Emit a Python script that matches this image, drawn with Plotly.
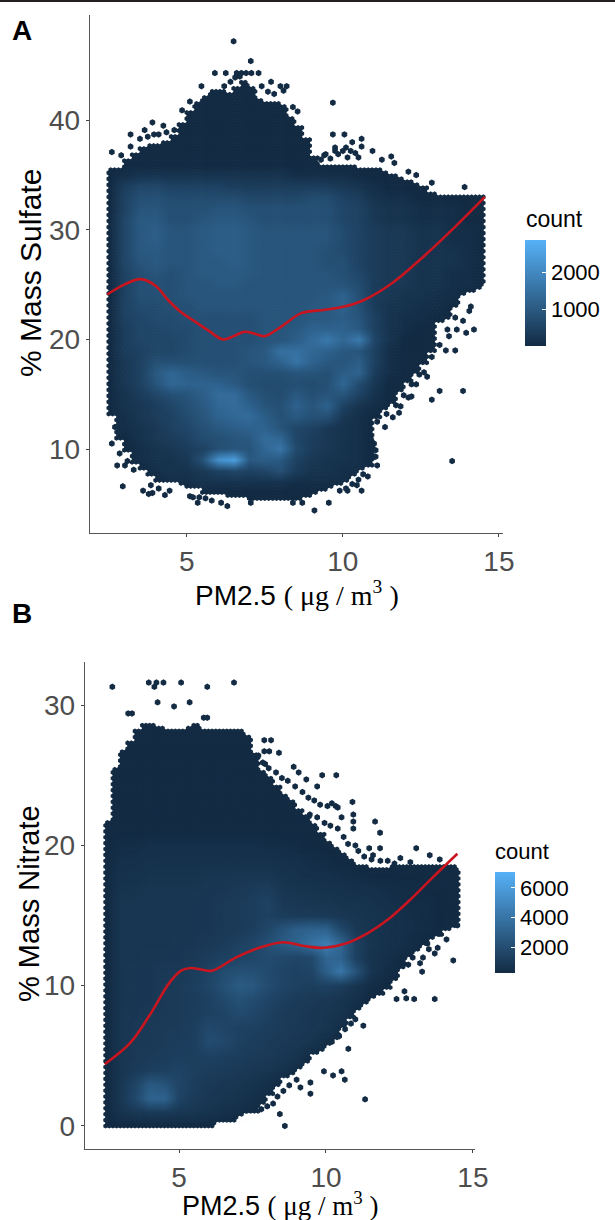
import plotly.graph_objects as go

W, H = 615, 1220
NAVY = "#132B43"
LIGHT = "#56B1F7"
GREY = "#4D4D4D"

# ---- Panel A: coverage of the hexagons per PM2.5 station
stations = [2.5 + 0.25 * i for i in range(49)]
a_low = [13, 10.8, 9.8, 8.8, 8.2, 7.5, 7.0, 6.9, 6.9, 6.7, 6.5, 6.4, 6.0, 5.9, 5.8, 5.7, 5.7, 5.6, 5.5, 5.4,
         5.4, 5.4, 5.4, 5.4, 5.5, 5.6, 5.9, 6.2, 6.5, 6.7, 6.9, 7.5, 8.0, 8.5, 12.9, 13.7, 14.3, 15.2, 16, 16.8,
         17.8, 18.8, 21.5, 22.0, 23, 24, 24.4, 24.6, 24.9]
a_up = [35.6, 35.6, 36.5, 37.0, 37.6, 37.8, 37.8, 38.0, 38.6, 39.8, 40.8, 41.6, 42.3, 42.7, 42.7, 42.6, 43.0,
        43.6, 43.0, 42.0, 41.8, 41.8, 41.4, 40.4, 39.5, 38.3, 36.8, 36.0, 36.0, 36.0, 36.0, 35.9, 35.7, 35.6,
        35.6, 35.3, 35.1, 34.9, 34.6, 34.2, 33.9, 33.3, 33.2, 33.2, 33.2, 33.2, 33.2, 33.2, 33.2]
a_out_x = [6.5, 7.05, 5.9, 6.25, 6.6, 6.75, 6.9, 7.07, 7.3, 7.7, 8, 8.2, 8.1, 9.68, 9.68, 10.05, 10.6, 10.6, 10.3,
           9.75, 10.95, 11.25, 11.55, 11.65, 12.1, 12.35, 12.85, 13.9, 2.6, 2.9, 3.2, 3.2, 3.65, 3.9, 4.25, 3.95,
           5.1, 4.85, 5.47, 6.2, 9.4, 9.75, 10.1, 10.4, 14.1, 14.2, 13.95, 13.65, 13.6, 13.4, 13.3, 13.1, 13.85,
           12.85, 13.5, 12.2, 11.8, 12.7, 13, 13.35, 12.75, 9.09, 9.55, 7.05, 6.3, 6.1, 5.35, 5.1, 3.78, 3.6,
           2.95, 2.77, 3.02, 4.45, 2.6, 3.85, 11.1, 11.05, 11, 10.9, 10.8, 10.6, 10.15, 10.45, 11, 11.05, 10.95,
           # ragged rims
           9.3, 9.45, 9.6, 9.85, 10.0, 10.15, 10.25, 10.5, 4.1, 4.35, 4.6, 3.5, 3.75, 6.4, 6.55, 6.7, 7.4, 7.6, 7.8,
           8.4, 8.55, 11.1, 11.4, 11.7, 11.95, 12.2, 12.45, 11.35, 11.6, 11.85, 12.1, 12.35, 12.6, 12.85, 13.1,
           13.35, 13.6, 13.85, 14.05, 3.9, 4.1, 4.3, 5.2, 5.4, 5.6, 5.8, 8.4, 8.7, 9.9, 10.1, 10.3, 10.5, 10.65, 2.7, 2.85, 3.1, 3.3]
a_out_y = [47.2, 45.4, 44.3, 44.3, 44.3, 44.3, 44.3, 44.3, 44.3, 43.5, 43.1, 43.1, 42.7, 41.6, 38.7, 38.7, 38.3,
           37.6, 38, 37.5, 37.2, 36.4, 36.7, 36.1, 35.3, 35, 34.3, 33.9, 37.1, 36.8, 37.6, 38.7, 39.1, 39.8, 39.5,
           38.7, 41.7, 40.9, 43.1, 43.1, 36.8, 37.2, 37.5, 37, 23, 20.9, 20.6, 20.9, 19, 20.3, 19, 15.3, 15.3,
           14.5, 8.9, 14.8, 13.3, 16.6, 21.9, 22.2, 20.6, 4.4, 5.1, 5.1, 4.8, 5.1, 5.1, 5.7, 5.9, 6.2,
           6.6, 8.5, 8.5, 6.2, 10.5, 6.7, 8.5, 9.9, 10.5, 10.9, 7.5, 6.2, 6.2, 6.7, 9.3, 9.3, 10.1,
           36.4, 36.9, 36.5, 36.9, 37.2, 36.6, 37.2, 36.6, 38.7, 38.9, 39.1, 38.3, 38.5, 43.5, 43.9, 44.0, 43.1, 42.6, 42.4,
           41.2, 40.8, 12.5, 13.2, 14.0, 14.9, 15.9, 16.8, 12.0, 12.9, 13.9, 14.7, 15.9, 17.0, 18.4, 19.5, 20.9,
           22.0, 21.7, 22.6, 6.0, 6.4, 5.8, 5.6, 5.6, 5.5, 5.3, 5.1, 5.1, 6.2, 6.4, 6.8, 7.2, 7.7, 12.0, 9.6, 8.9, 8.1]
a_line_x = [2.45, 3.0, 3.52, 4.0, 4.4, 4.77, 5.28, 5.7, 6.16, 6.5, 6.85, 7.2, 7.5, 8.04, 8.67, 9.42, 10.05, 10.68,
            11.56, 12.56, 13.57, 14.55]
a_line_y = [24.1, 25.0, 25.5, 24.9, 23.6, 22.6, 21.6, 20.8, 20.0, 20.3, 20.7, 20.5, 20.3, 21.2, 22.4, 22.7, 23.0,
            23.6, 25.1, 27.5, 30.2, 33.0]

# counts in hundreds; rows y = 5..36, columns x = 2.5..14.5 in steps of 0.5
grid_x = [2.5 + 0.5 * i for i in range(25)]
a_grid_y = list(range(5, 37))
a_grid = [
    [0],
    [0],
    [0, 0, 0, 0, 1, 1, 2, 2, 2, 2, 2, 2, 1, 1, 1, 1],
    [0, 0, 0, 1, 2, 2, 3, 5, 6, 5, 6, 8, 4, 2, 2, 1, 1],
    [0, 0, 1, 2, 2, 3, 8, 22, 25, 10, 11, 10, 5, 3, 2, 2, 1],
    [0, 0, 1, 2, 3, 4, 5, 8, 9, 9, 13, 16, 7, 4, 3, 2, 1],
    [0, 0, 2, 3, 4, 5, 7, 8, 9, 10, 14, 13, 6, 4, 3, 2, 1],
    [0, 1, 2, 3, 5, 6, 8, 10, 11, 12, 12, 9, 6, 5, 3, 2, 1],
    [0, 1, 3, 4, 5, 7, 9, 12, 13, 14, 11, 8, 10, 8, 8, 3, 1],
    [0, 2, 3, 4, 6, 8, 10, 13, 14, 12, 9, 8, 12, 9, 12, 5, 2, 1],
    [0, 2, 4, 6, 8, 9, 11, 14, 14, 10, 8, 7, 10, 8, 9, 9, 5, 2],
    [0, 3, 5, 9, 13, 12, 12, 12, 10, 8, 7, 7, 8, 7, 8, 13, 7, 3],
    [0, 3, 5, 10, 13, 11, 10, 9, 9, 8, 8, 8, 9, 9, 8, 11, 12, 4, 1],
    [0, 3, 5, 8, 8, 8, 8, 8, 8, 9, 10, 12, 16, 12, 10, 9, 11, 5, 1],
    [0, 4, 5, 6, 6, 7, 8, 8, 8, 9, 10, 15, 15, 13, 12, 10, 9, 5, 1],
    [0, 4, 6, 6, 6, 7, 8, 8, 8, 8, 9, 9, 11, 14, 17, 13, 17, 6, 2],
    [0, 4, 6, 6, 7, 7, 8, 8, 8, 8, 9, 9, 10, 12, 12, 12, 10, 5, 2, 1],
    [0, 5, 6, 7, 7, 8, 8, 8, 8, 8, 9, 9, 9, 10, 10, 11, 9, 5, 2, 1, 1],
    [0, 5, 7, 7, 8, 8, 9, 9, 9, 9, 9, 9, 9, 10, 10, 12, 8, 4, 2, 2, 1, 1],
    [0, 5, 8, 8, 8, 9, 9, 9, 9, 9, 9, 9, 9, 9, 10, 12, 8, 4, 3, 2, 2, 1, 1],
    [0, 5, 8, 8, 8, 9, 9, 10, 10, 9, 9, 9, 9, 9, 9, 9, 7, 4, 3, 3, 2, 2, 1, 1],
    [0, 5, 8, 9, 8, 9, 10, 10, 10, 10, 9, 9, 9, 9, 9, 8, 6, 4, 3, 3, 2, 2, 1, 1],
    [0, 6, 9, 10, 9, 9, 10, 10, 11, 10, 9, 9, 9, 9, 8, 8, 5, 4, 3, 3, 2, 2, 2, 1],
    [0, 6, 10, 10, 9, 9, 10, 11, 11, 10, 9, 9, 9, 9, 8, 7, 5, 4, 3, 3, 2, 2, 2, 1],
    [0, 6, 10, 11, 9, 9, 10, 11, 11, 10, 9, 9, 9, 9, 9, 7, 5, 4, 3, 3, 2, 2, 1, 1],
    [0, 6, 10, 11, 9, 9, 10, 11, 11, 10, 9, 9, 9, 9, 9, 7, 5, 4, 3, 3, 2, 2, 1, 1],
    [0, 6, 10, 10, 8, 8, 9, 10, 10, 9, 8, 8, 8, 8, 8, 6, 5, 3, 2, 2, 1, 1, 1],
    [0, 5, 9, 9, 8, 8, 8, 9, 9, 8, 8, 8, 8, 8, 8, 6, 5, 3, 2, 2, 1, 1, 1],
    [0, 5, 8, 8, 7, 7, 7, 7, 7, 6, 6, 6, 6, 7, 7, 5, 4, 2, 1, 1],
    [0, 4, 6, 6, 5, 5, 5, 5, 4, 4, 4, 4, 4, 4, 4, 3, 2, 1],
    [0, 1, 2, 2, 2, 2, 2, 2, 2, 2, 2, 2, 1, 1, 1, 1],
    [0],
]

# ---- Panel B
b_low = [0, 0, 0, 0, 0, 0, 0, 0, 0, 0, 0, 0, 0, 0, 0, 0.4, 0.4, 0.4, 0.7, 1.0, 1.0, 1.5, 2.2, 2.9, 3.4, 3.7, 4.0,
         4.5, 5.1, 5.4, 5.7, 6.3, 7.0, 7.7, 8.3, 8.8, 9.1, 9.4, 9.8, 10.5, 11.2, 12.1, 12.6, 13, 13.3, 13.6, 13.9,
         14.2, 14.5]
b_up = [21.8, 25.5, 26.8, 27.4, 28.2, 28.6, 28.7, 28.5, 28.2, 28.2, 28.3, 28.5, 28.6, 28.3, 28.2, 28.3, 28.3, 28.3,
        28.2, 27.8, 26.5, 25.4, 24.9, 24.3, 23.7, 23.1, 22.6, 22.1, 21.5, 20.9, 20.3, 19.9, 19.5, 19.0, 18.6, 18.5,
        18.4, 18.4, 18.4, 18.5, 18.5, 18.5, 18.5, 18.5, 18.5, 18.5, 18.5, 18.5, 18.4]
b_out_x = [2.73, 3.97, 4.16, 4.23, 4.47, 5.07, 5.96, 6.87, 4.27, 4.83, 5.36, 3.27, 3.4, 5.84, 5.96, 7.9, 8.13, 7.9,
           8.07, 8.4, 7.93, 8.9, 9.07, 9.87, 10.35, 9.7, 9.33, 10.9, 10.93, 10.93, 10.93, 11.67, 11.84, 10.53, 10.33,
           13.07, 13.53, 12.53, 11.47, 11.84, 11, 13.87, 11.6, 12.33, 12.87, 14.47, 13.87, 14.33, 13.27, 12.8,
           12.53, 12.67, 12.4, 12.73, 13, 13.7, 11.27, 10, 10.76, 9.93, 10.24, 10.53, 10.64, 11.33, 8.6, 8.43, 9.47,
           9.47, 9.13, 7.27, 9.33,
           # ragged rims
           7.7, 7.85, 8.05, 8.3, 8.5, 8.7, 8.95, 9.2, 9.4, 9.6, 9.8, 10.05, 10.2, 10.4, 9.45, 9.7, 9.95, 10.15, 10.4,
           10.6, 10.75, 11.1, 11.3, 11.55, 11.85, 12.1, 12.7, 12.4, 13.3, 13.7, 13.2, 12.95, 13.5, 13.8, 14.1, 13.45,
           13.0, 11.0, 10.85, 10.65, 10.45, 10.2, 9.0, 8.75, 8.55, 8.35, 8.2, 8.0, 7.8]
b_out_y = [31.3, 31.6, 31.3, 31.6, 31.6, 31.6, 31.3, 31.6, 30.2, 29.9, 30.2, 29.4, 29.4, 29.1, 29.1, 27.5, 27.5, 26.7,
           26.7, 26.6, 25.8, 25.6, 25.2, 25, 25, 24.2, 24.7, 23.1, 22.2, 21.7, 21.2, 21.7, 20.9, 22, 22.8,
           19.8, 19.3, 19.1, 19.8, 19.8, 20, 19, 19.3, 18.7, 18.8, 14.3, 13.7, 11.8, 11, 11.5,
           12.4, 9.6, 9.05, 9.1, 9.05, 9.05, 7.15, 7.4, 5.5, 3.9, 3.6, 3.9, 3.3, 1.9, 0, 0.85, 3.1,
           2.3, 2.75, 1.1, 5,
           26.4, 25.9, 25.5, 25.2, 24.8, 24.6, 24.2, 23.8, 23.4, 23.2, 22.9, 22.8, 23.0, 22.7, 22.2, 22.0, 21.6, 21.4,
           21.2, 20.6, 20.1, 19.6, 19.2, 19.0, 18.9, 18.9, 12.5, 11.9, 12.0, 12.3, 11.6, 12.0, 12.6, 12.7, 13.3, 13.0,
           12.6, 7.6, 7.3, 6.9, 6.4, 6.0, 3.3, 2.9, 2.5, 2.1, 1.6, 1.4, 1.2]
b_line_x = [2.47, 3.33, 4, 4.67, 5.07, 5.4, 5.75, 6.13, 6.93, 7.73, 8.53, 9.2, 9.93, 10.67, 11.47, 12.13, 12.8, 13.6,
            14.47]
b_line_y = [4.4, 5.9, 7.9, 10.2, 11.07, 11.26, 11.15, 11.07, 12, 12.7, 13.1, 12.85, 12.7, 13, 13.8, 14.75, 16, 17.65,
            19.4]

b_grid_y = list(range(0, 22))
b_grid = [
    [0],
    [0, 5, 7, 8, 8, 7, 6, 5, 3, 2, 1],
    [0, 7, 16, 30, 30, 13, 9, 7, 6, 5, 3, 1],
    [0, 7, 14, 25, 22, 14, 10, 8, 7, 6, 5, 3],
    [0, 6, 9, 11, 12, 13, 11, 10, 9, 8, 7, 6, 4, 1],
    [0, 6, 8, 9, 10, 11, 11, 12, 11, 10, 9, 8, 7, 5, 1],
    [0, 6, 8, 8, 9, 10, 11, 18, 16, 12, 10, 9, 8, 7, 6, 2],
    [0, 6, 8, 8, 9, 9, 11, 16, 14, 12, 12, 10, 9, 8, 7, 6, 2],
    [0, 6, 7, 8, 8, 9, 10, 12, 13, 17, 15, 12, 9, 8, 7, 6, 5, 1],
    [0, 6, 7, 7, 8, 9, 10, 12, 16, 20, 18, 14, 11, 9, 8, 7, 6, 3],
    [0, 6, 7, 7, 8, 9, 11, 14, 20, 26, 24, 18, 14, 12, 11, 12, 10, 6, 2],
    [0, 6, 7, 7, 8, 8, 10, 13, 18, 20, 20, 17, 14, 12, 14, 28, 40, 22, 6, 2],
    [0, 6, 6, 7, 7, 7, 8, 10, 12, 14, 15, 17, 16, 14, 16, 32, 30, 12, 5, 3, 1],
    [0, 6, 6, 6, 6, 7, 7, 8, 9, 12, 14, 20, 26, 30, 38, 44, 32, 12, 6, 4, 3, 1],
    [0, 6, 6, 6, 6, 6, 7, 7, 8, 9, 11, 15, 22, 28, 30, 30, 16, 8, 5, 4, 3, 2, 1],
    [0, 6, 6, 6, 6, 6, 7, 7, 8, 9, 10, 12, 10, 9, 9, 8, 7, 6, 5, 4, 3, 2, 1],
    [0, 6, 6, 6, 6, 6, 7, 7, 8, 9, 10, 13, 8, 7, 6, 6, 5, 5, 4, 3, 2, 1, 1],
    [0, 5, 5, 6, 6, 6, 6, 7, 7, 8, 9, 10, 6, 5, 5, 4, 4, 3, 3, 2, 1, 1],
    [0, 4, 4, 5, 5, 5, 5, 6, 6, 6, 6, 6, 5, 4, 3, 3, 2, 1],
    [0, 3, 3, 4, 4, 4, 4, 4, 4, 4, 4, 4, 3, 3, 2, 1],
    [0, 2, 2, 3, 3, 3, 3, 3, 3, 3, 3, 2, 2, 1],
    [0],
]

a_xticks, a_yticks = [5, 10, 15], [10, 20, 30, 40]
b_xticks, b_yticks = [5, 10, 15], [0, 10, 20, 30]
a_cbar_ticks, b_cbar_ticks = [1000, 2000], [2000, 4000, 6000]


def hexes(low, up, dy, ox, oy):
    xs, ys = [], []
    for c in range(0, 97):
        x = 2.5 + c * 0.125
        s = min(range(len(stations)), key=lambda k: abs(stations[k] - x))
        r = 0
        while r * dy <= 50:
            y = r * dy
            xc = x + (0.0625 if r % 2 else 0)
            if low[s] <= y <= up[s] and xc <= 14.53:
                xs.append(xc)
                ys.append(y)
            r += 1
    return xs + ox, ys + oy, [5.2] * len(xs) + [6.5] * len(ox)


def pad(grid):
    return [[v * 100 for v in row] + [0] * (25 - len(row)) for row in grid]


def px_x(p):
    return p / W


def px_y(p):
    return 1 - p / H


AX = dict(showgrid=False, zeroline=False, showline=True, linecolor="#555555", linewidth=1.4, ticks="outside",
          ticklen=3, tickcolor="#444444", tickwidth=1, tickfont=dict(family="Liberation Sans", size=28, color=GREY))

fig = go.Figure()
opaque = [[0, NAVY], [1, LIGHT]]
fade = [[0, "rgba(86,177,247,0)"], [1, "rgba(86,177,247,1)"]]

panels = [
    ("x", "y", "x3", "y3", a_low, a_up, 0.275, a_out_x, a_out_y, a_line_x, a_line_y, a_grid_y, a_grid,
     0, 2870, a_cbar_ticks, 525, 240, 106, 21),
    ("x2", "y2", "x4", "y4", b_low, b_up, 0.21, b_out_x, b_out_y, b_line_x, b_line_y, b_grid_y, b_grid,
     240, 7080, b_cbar_ticks, 495, 872, 101, 20),
]
for (xa, ya, xb, yb, low, up, dy, ox, oy, lx, ly, gy, grid, cmin, cmax, cticks, cx, cy, clen, cth) in panels:
    hx, hy, hs = hexes(low, up, dy, ox, oy)
    fig.add_trace(go.Scatter(
        x=hx, y=hy, xaxis=xa, yaxis=ya, mode="markers", showlegend=False, hoverinfo="skip",
        marker=dict(symbol="hexagon", size=hs, opacity=1, color=[cmin] * len(hx), cmin=cmin, cmax=cmax,
                    colorscale=opaque, line=dict(width=0),
                    colorbar=dict(x=cx / W, xanchor="left", xpad=0, y=px_y(cy), yanchor="top", ypad=0,
                                  len=clen / H, lenmode="fraction", thickness=cth, thicknessmode="pixels",
                                  outlinewidth=0, ticks="inside", ticklen=4, tickcolor="white", tickwidth=1,
                                  tickvals=cticks, ticktext=[str(t) for t in cticks],
                                  tickfont=dict(family="Liberation Sans", size=22, color="black")))))
    fig.add_trace(go.Heatmap(x=grid_x, y=gy, z=pad(grid), xaxis=xb, yaxis=yb, zmin=0, zmax=cmax, zsmooth="best",
                             colorscale=fade, showscale=False, hoverinfo="skip"))
    fig.add_trace(go.Scatter(x=lx, y=ly, xaxis=xb, yaxis=yb, mode="lines", showlegend=False, hoverinfo="skip",
                             line=dict(color="#C8151F", width=2.6, shape="spline")))

a_xr, a_yr = [1.9, 15.13], [2.34, 49.6]
b_xr, b_yr = [1.8, 15.07], [-1.64, 33.07]
a_xd, a_yd = [px_x(90), px_x(503)], [px_y(533), px_y(15)]
b_xd, b_yd = [px_x(85), px_x(475)], [px_y(1149), px_y(662)]

fig.update_layout(
    width=W, height=H, margin=dict(l=0, r=0, t=0, b=0, autoexpand=False), paper_bgcolor="white", plot_bgcolor="white",
    xaxis=dict(AX, domain=a_xd, range=a_xr, tickvals=a_xticks, anchor="y"),
    yaxis=dict(AX, domain=a_yd, range=a_yr, tickvals=a_yticks, anchor="x"),
    xaxis2=dict(AX, domain=b_xd, range=b_xr, tickvals=b_xticks, anchor="y2"),
    yaxis2=dict(AX, domain=b_yd, range=b_yr, tickvals=b_yticks, anchor="x2"),
    xaxis3=dict(domain=a_xd, range=a_xr, overlaying="x", anchor="y3", visible=False),
    yaxis3=dict(domain=a_yd, range=a_yr, overlaying="y", anchor="x3", visible=False),
    xaxis4=dict(domain=b_xd, range=b_xr, overlaying="x2", anchor="y4", visible=False),
    yaxis4=dict(domain=b_yd, range=b_yr, overlaying="y2", anchor="x4", visible=False),
    shapes=[dict(type="rect", xref="paper", yref="paper", x0=0, x1=1, y0=px_y(2), y1=1,
                 fillcolor="#231F20", line=dict(width=0))],
)

SERIF = 'font-family:Liberation Serif'
x_title = f'PM2.5 <span style="{SERIF}">( μg / m<sup>3</sup> )</span>'
for text, x, y, size, rot in [
    ("<b>A</b>", 22, 30, 28, 0),
    ("<b>B</b>", 22, 613, 28, 0),
    ("% Mass Sulfate", 30, 273, 30, -90),
    ("% Mass Nitrate", 29, 904, 29, -90),
    (x_title, 297, 594, 28, 0),
    (x_title, 280, 1204, 27, 0),
    ("count", 554, 219, 23, 0),
    ("count", 522, 851, 22, 0),
]:
    fig.add_annotation(text=text, xref="paper", yref="paper", x=px_x(x), y=px_y(y), xanchor="center", yanchor="middle",
                       showarrow=False, textangle=rot, font=dict(family="Liberation Sans", size=size, color="black"))

fig.write_html("out.html", config={"displayModeBar": False},
               post_script="document.body.style.margin='0';document.body.style.overflow='hidden';")
